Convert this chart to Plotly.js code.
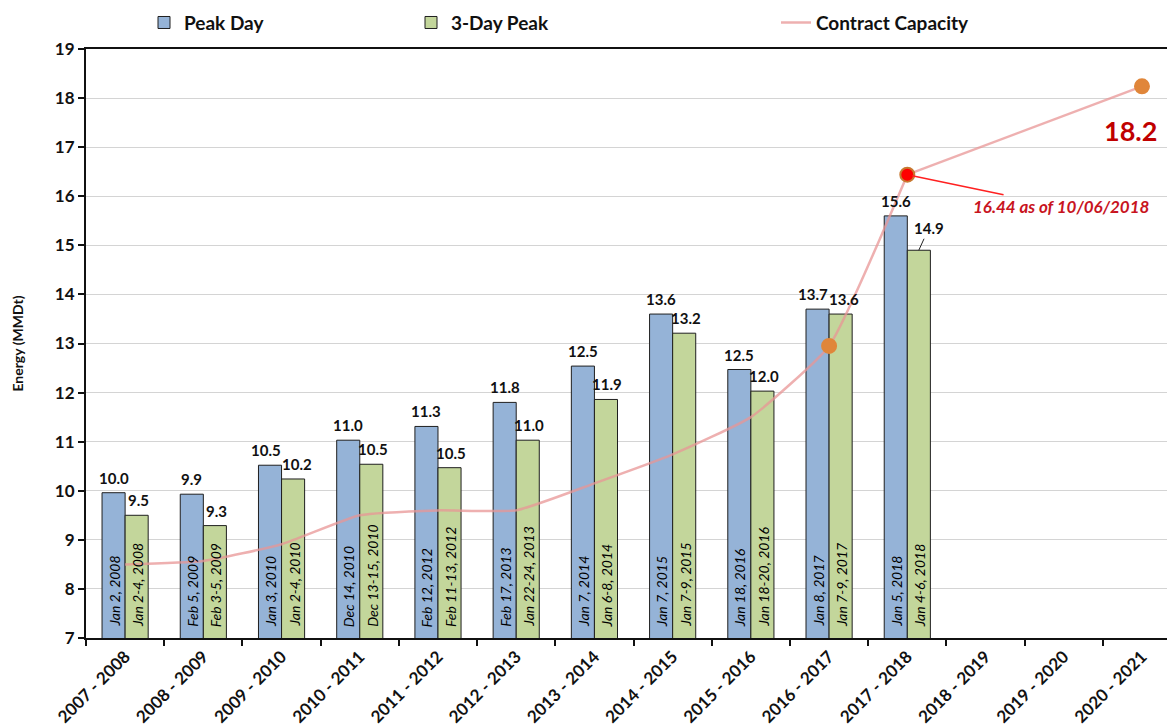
<!DOCTYPE html>
<html>
<head>
<meta charset="utf-8">
<script src="https://cdn.plot.ly/plotly-3.0.1.min.js"></script>
<style>html,body{margin:0;padding:0;background:#fff;}#chart{width:1167px;height:727px;}</style>
</head>
<body>
<div id="chart"></div>
<script>
const seasons = ["2007 - 2008","2008 - 2009","2009 - 2010","2010 - 2011","2011 - 2012","2012 - 2013","2013 - 2014","2014 - 2015","2015 - 2016","2016 - 2017","2017 - 2018","2018 - 2019","2019 - 2020","2020 - 2021"];
const peakDay = [9.96, 9.93, 10.52, 11.03, 11.31, 11.80, 12.54, 13.60, 12.47, 13.70, 15.60];
const threeDayPeak = [9.50, 9.29, 10.24, 10.54, 10.47, 11.03, 11.86, 13.21, 12.03, 13.60, 14.90];
const peakDayDates = ["Jan 2, 2008","Feb 5, 2009","Jan 3, 2010","Dec 14, 2010","Feb 12, 2012","Feb 17, 2013","Jan 7, 2014","Jan 7, 2015","Jan 18, 2016","Jan 8, 2017","Jan 5, 2018"];
const threeDayDates = ["Jan 2-4, 2008","Feb 3-5, 2009","Jan 2-4, 2010","Dec 13-15, 2010","Feb 11-13, 2012","Jan 22-24, 2013","Jan 6-8, 2014","Jan 7-9, 2015","Jan 18-20, 2016","Jan 7-9, 2017","Jan 4-6, 2018"];
const contractCapacity = [8.5, 8.57, 8.91, 9.5, 9.6, 9.6, 10.15, 10.74, 11.5, 12.95, 16.44, null, null, 18.24];
const highlightedPoints = [9, 10, 13];
const latestPoint = 10;
const capacityNote = "16.44 as of 10/06/2018";
const finalCapacityLabel = "18.2";
const yMin = 7, yMax = 19;

const FONT = "Lato, 'Open Sans', sans-serif";
const barSeasons = seasons.slice(0, peakDay.length);

// measured part of the line (smoothed) and the projection to 2020-2021 (straight)
const measuredCap = contractCapacity.map((v, i) => i <= latestPoint ? v : null);
const projectedCap = contractCapacity.map((v, i) => i >= latestPoint ? v : null);

const traces = [
  {
    type: 'bar', name: 'Peak Day', x: barSeasons, y: peakDay, legend: 'legend',
    marker: {color: '#95B3D7', line: {color: '#1f1f1f', width: 1}},
    hoverinfo: 'y'
  },
  {
    type: 'bar', name: '3-Day Peak', x: barSeasons, y: threeDayPeak, legend: 'legend2',
    marker: {color: '#C3D69B', line: {color: '#1f1f1f', width: 1}},
    hoverinfo: 'y'
  },
  {
    type: 'scatter', mode: 'lines', name: 'Contract Capacity', x: seasons, y: measuredCap,
    legend: 'legend3',
    line: {color: 'rgba(232,150,150,0.75)', width: 2.5, shape: 'spline', smoothing: 0.45},
    hoverinfo: 'y'
  },
  {
    type: 'scatter', mode: 'lines', showlegend: false, x: seasons, y: projectedCap, connectgaps: true,
    line: {color: 'rgba(232,150,150,0.75)', width: 2.5},
    hoverinfo: 'y'
  },
  {
    type: 'scatter', mode: 'markers', showlegend: false,
    x: highlightedPoints.map(i => seasons[i]), y: highlightedPoints.map(i => contractCapacity[i]),
    marker: {
      size: 14,
      color: highlightedPoints.map(i => i === latestPoint ? '#FF0000' : '#E0863A'),
      line: {color: highlightedPoints.map(i => i === latestPoint ? '#C87830' : '#E0863A'), width: 2}
    },
    cliponaxis: false, hoverinfo: 'y'
  }
];

const labelFont = {family: FONT, size: 15, color: '#111', weight: 'bold'};
const dateFont = {family: FONT, size: 14, color: '#000', style: 'italic'};
const annotations = [];

// dates written up the bars, from the base
peakDayDates.forEach((d, i) => {
  annotations.push({x: barSeasons[i], y: yMin, xref: 'x', yref: 'y', text: d, textangle: -90, showarrow: false,
    xanchor: 'center', yanchor: 'bottom', xshift: -11, yshift: 9, font: dateFont});
});
threeDayDates.forEach((d, i) => {
  annotations.push({x: barSeasons[i], y: yMin, xref: 'x', yref: 'y', text: d, textangle: -90, showarrow: false,
    xanchor: 'center', yanchor: 'bottom', xshift: 12, yshift: 9, font: dateFont});
});

peakDay.forEach((v, i) => {
  const crowded = Math.abs(v - threeDayPeak[i]) < 0.3;
  annotations.push({x: barSeasons[i], y: v, xref: 'x', yref: 'y', text: v.toFixed(1), showarrow: false,
    xshift: crowded ? -16 : -11.5, yshift: 15, font: labelFont});
});
threeDayPeak.forEach((v, i) => {
  if (i === threeDayPeak.length - 1) {
    annotations.push({x: barSeasons[i], y: v, xref: 'x', yref: 'y', text: v.toFixed(1), showarrow: true,
      arrowhead: 0, arrowwidth: 1, arrowcolor: '#222', ax: 10, ay: -22, xshift: 11.5, font: labelFont});
  } else {
    const crowded = Math.abs(peakDay[i] - v) < 0.3;
    annotations.push({x: barSeasons[i], y: v, xref: 'x', yref: 'y', text: v.toFixed(1), showarrow: false,
      xshift: crowded ? 15 : 13, yshift: 15, font: labelFont});
  }
});
annotations.push({x: seasons[latestPoint], y: contractCapacity[latestPoint], xref: 'x', yref: 'y', text: capacityNote,
  showarrow: true, arrowhead: 0, arrowwidth: 1.5, arrowcolor: '#FF2020', ax: 154, ay: 32, standoff: 5,
  font: {family: FONT, size: 17, color: '#C8141E', weight: 'bold', style: 'italic'}});
annotations.push({x: seasons[13], y: contractCapacity[13], xref: 'x', yref: 'y', text: finalCapacityLabel,
  showarrow: false, xshift: -11, yshift: -44,
  font: {family: FONT, size: 27, color: '#C00000', weight: 'bold'}});

const legendBase = {orientation: 'h', xref: 'container', yref: 'container', yanchor: 'top', y: 0.995,
  font: {family: FONT, size: 19, color: '#111', weight: 'bold'}, bgcolor: 'rgba(0,0,0,0)', itemwidth: 30};

const layout = {
  width: 1167, height: 727,
  margin: {l: 86, r: 0, t: 49, b: 89},
  paper_bgcolor: '#fff', plot_bgcolor: '#fff',
  barmode: 'group', bargap: 0.41, bargroupgap: 0,
  showlegend: true,
  legend: Object.assign({}, legendBase, {x: 144 / 1167}),
  legend2: Object.assign({}, legendBase, {x: 411 / 1167}),
  legend3: Object.assign({}, legendBase, {x: 776 / 1167}),
  xaxis: {
    type: 'category', range: [-0.5, 13.32], tickangle: -45, tickson: 'boundaries',
    ticks: 'outside', ticklen: 6, tickwidth: 2, tickcolor: '#111',
    showline: true, linecolor: '#111', linewidth: 2, mirror: true, showgrid: false,
    tickfont: {family: FONT, size: 17, color: '#111', weight: 'bold'}
  },
  yaxis: {
    range: [yMin, yMax], dtick: 1, ticks: 'outside', ticklen: 6, tickwidth: 2, tickcolor: '#111',
    showline: true, linecolor: '#111', linewidth: 2, showgrid: true, gridcolor: '#D4D4D4', gridwidth: 1,
    zeroline: false,
    tickfont: {family: FONT, size: 17, color: '#111', weight: 'bold'},
    title: {text: 'Energy (MMDt)', standoff: 28, font: {family: FONT, size: 14, color: '#111', weight: 'bold'}}
  },
  annotations: annotations
};

Plotly.newPlot('chart', traces, layout, {displayModeBar: false, responsive: false});
</script>
</body>
</html>
